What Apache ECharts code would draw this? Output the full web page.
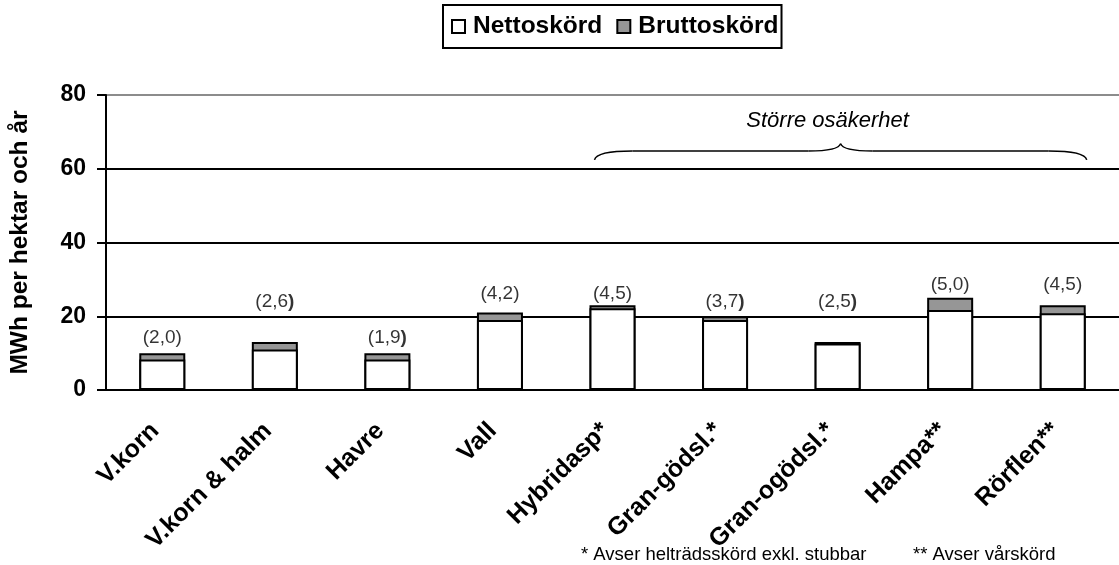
<!DOCTYPE html>
<html>
<head>
<meta charset="utf-8">
<script src="https://cdn.jsdelivr.net/npm/echarts@6/dist/echarts.min.js"></script>
<style>
  html, body { margin: 0; padding: 0; background: #fff; }
  #chart { width: 1119px; height: 565px; }
</style>
</head>
<body>
<div id="chart"></div>
<script>
const categories = ['V.korn', 'V.korn & halm', 'Havre', 'Vall', 'Hybridasp*', 'Gran-gödsl.*', 'Gran-ogödsl.*', 'Hampa**', 'Rörflen**']
// bar heights, MWh per hektar och år
const nettoskord = [8.3, 11, 8.3, 19, 22.2, 19, 12.6, 21.7, 20.8]
const bruttoskord = [10, 13, 10, 21, 23, 20, 13, 25, 23]
// text above each bar and the height it sits at
const spreadLabels = ['(2,0)', '(2,6)', '(1,9)', '(4,2)', '(4,5)', '(3,7)', '(2,5)', '(5,0)', '(4,5)']
const boldParen = [false, true, true, false, false, true, true, false, false]
const labelHeights = [14.2, 23.9, 14.2, 26.2, 26.2, 23.9, 23.9, 28.5, 28.5]
const yTicks = [0, 20, 40, 60, 80]

const FONT = '"Liberation Sans", Arial, Helvetica, sans-serif'

const chart = echarts.init(document.getElementById('chart'))

function labelText(i) {
  const t = spreadLabels[i]
  if (!boldParen[i]) return t
  return t.slice(0, -1) + '{b|)}'
}

const option = {
  animation: false,
  textStyle: { fontFamily: FONT, color: '#000' },
  legend: {
    data: ['Nettoskörd', 'Bruttoskörd'],
    left: 443,
    top: 5,
    icon: 'rect',
    itemWidth: 13,
    itemHeight: 13,
    itemGap: 14,
    padding: [9, 3, 9, 8],
    borderColor: '#000',
    borderWidth: 2,
    textStyle: { fontFamily: FONT, fontSize: 24.5, fontWeight: 'bold', color: '#000', padding: [0, 0, 0, 3] },
  },
  grid: { left: 97, top: 95, width: 1030, bottom: 175 },
  xAxis: {
    type: 'category',
    data: categories,
    axisLine: { lineStyle: { color: '#000', width: 2 } },
    axisTick: { length: 8, lineStyle: { color: '#000', width: 2 } },
    axisLabel: {
      interval: 0,
      rotate: 45,
      margin: 30,
      padding: [0, 10, 0, 0],
      fontFamily: FONT,
      fontSize: 25,
      fontWeight: 'bold',
      color: '#000',
    },
  },
  yAxis: {
    type: 'value',
    min: yTicks[0],
    max: yTicks[yTicks.length - 1],
    interval: 20,
    name: 'MWh per hektar och år',
    nameLocation: 'middle',
    nameGap: 73,
    nameTextStyle: { fontFamily: FONT, fontSize: 24.5, fontWeight: 'bold', color: '#000' },
    axisLine: { show: true, lineStyle: { color: '#000', width: 2 } },
    axisTick: { show: true, length: 9, lineStyle: { color: '#000', width: 2 } },
    axisLabel: { margin: 20, fontFamily: FONT, fontSize: 23, fontWeight: 'bold', color: '#000' },
    splitLine: { lineStyle: { color: ['#000', '#000', '#000', '#000', '#8c8c8c'], width: 2 } },
  },
  series: [
    {
      name: 'Bruttoskörd',
      type: 'bar',
      barWidth: 46,
      barGap: '-100%',
      itemStyle: { color: '#969696', borderColor: '#000', borderWidth: 2 },
      data: bruttoskord,
    },
    {
      name: 'Nettoskörd',
      type: 'bar',
      barWidth: 46,
      barGap: '-100%',
      itemStyle: { color: '#fff', borderColor: '#000', borderWidth: 2 },
      data: nettoskord,
    },
    {
      name: 'spridning',
      type: 'scatter',
      silent: true,
      symbolSize: 0,
      z: 5,
      label: {
        show: true,
        position: 'inside',
        formatter: p => labelText(p.dataIndex),
        fontFamily: FONT,
        fontSize: 19,
        color: '#000',
        rich: { b: { fontFamily: FONT, fontSize: 19, fontWeight: 'bold', color: '#000' } },
      },
      data: labelHeights.map((v, i) => [categories[i], v]),
    },
  ],
}

chart.setOption(option)

// brace and note over the uncertain crops
function drawBrace() {
  const xa = chart.convertToPixel({ xAxisIndex: 0 }, categories[4])
  const xb = chart.convertToPixel({ xAxisIndex: 0 }, categories[8])
  const yEnd = chart.convertToPixel({ yAxisIndex: 0 }, 62.4)
  const yFlat = chart.convertToPixel({ yAxisIndex: 0 }, 64.8)
  const yTip = chart.convertToPixel({ yAxisIndex: 0 }, 66.8)
  const x0 = xa - 18
  const x1 = xb + 24
  const mid = (x0 + x1) / 2
  const stroke = { fill: null, stroke: '#000', lineWidth: 1.5 }
  const curve = (a, b, cx, cy) => ({
    type: 'bezierCurve',
    shape: { x1: a[0], y1: a[1], x2: b[0], y2: b[1], cpx1: cx, cpy1: cy },
    style: stroke,
  })
  const line = (a, b) => ({
    type: 'line',
    shape: { x1: a[0], y1: a[1], x2: b[0], y2: b[1] },
    style: stroke,
  })
  const noteStyle = (text) => ({
    text,
    font: '18.5px ' + FONT,
    fill: '#000',
    textAlign: 'left',
    textVerticalAlign: 'middle',
  })
  chart.setOption({
    graphic: [
      curve([x0, yEnd], [x0 + 38, yFlat], x0 + 2, yFlat),
      line([x0 + 38, yFlat], [mid - 32, yFlat]),
      curve([mid - 32, yFlat], [mid, yTip], mid - 2, yFlat),
      curve([mid, yTip], [mid + 32, yFlat], mid + 2, yFlat),
      line([mid + 32, yFlat], [x1 - 38, yFlat]),
      curve([x1 - 38, yFlat], [x1, yEnd], x1 - 2, yFlat),
      {
        type: 'text',
        x: mid - 13,
        y: 121,
        style: {
          text: 'Större osäkerhet',
          font: 'italic 22px ' + FONT,
          fill: '#000',
          textAlign: 'center',
          textVerticalAlign: 'middle',
        },
      },
      { type: 'text', x: 581, y: 555, style: noteStyle('* Avser helträdsskörd exkl. stubbar') },
      { type: 'text', x: 913, y: 555, style: noteStyle('** Avser vårskörd') },
    ],
  })
}

drawBrace()
</script>
</body>
</html>
